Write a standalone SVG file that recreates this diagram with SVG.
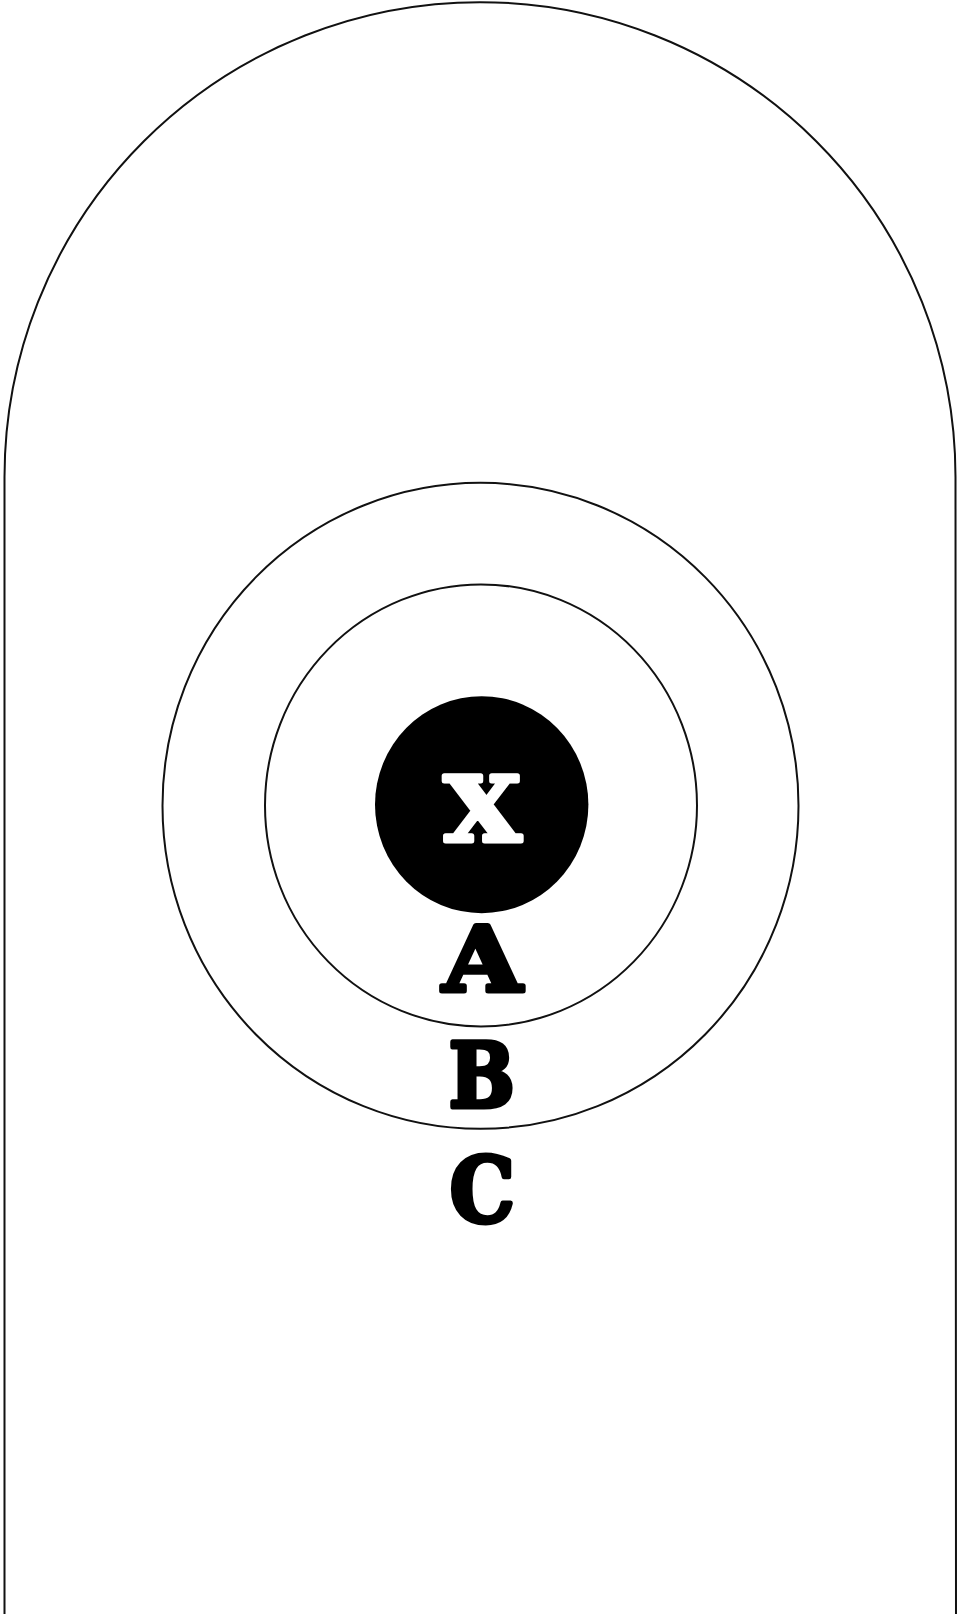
<svg xmlns="http://www.w3.org/2000/svg" width="958" height="1614" viewBox="0 0 958 1614">
<style>
.line{fill:none;stroke:#111;stroke-width:2}
.lbl{font-family:"DejaVu Serif","Liberation Serif",serif;font-weight:bold;font-size:90px;text-anchor:middle;stroke-width:5;stroke-linejoin:round}
.dark{fill:#000;stroke:#000}
.light{fill:#fff;stroke:#fff}
</style>
<rect width="958" height="1614" fill="#fff"/>
<g id="outline">
<path class="line" d="M4.5,1614 L4.5,477 A475.5,475 0 0 1 955.5,477 L956,1614"/>
</g>
<g id="ring-c">
<ellipse class="line" cx="480.5" cy="805.8" rx="318" ry="323"/>
</g>
<g id="ring-b">
<ellipse class="line" cx="481" cy="805.4" rx="216" ry="221"/>
</g>
<g id="bull">
<ellipse cx="481.7" cy="804.7" rx="106.7" ry="108.5" fill="#000"/>
<text class="lbl light" x="482.5" y="840.5" textLength="77" lengthAdjust="spacingAndGlyphs">X</text>
</g>
<g id="label-a">
<text class="lbl dark" x="482.3" y="991" textLength="79" lengthAdjust="spacingAndGlyphs">A</text>
</g>
<g id="label-b">
<text class="lbl dark" x="481.7" y="1107" textLength="66" lengthAdjust="spacingAndGlyphs">B</text>
</g>
<g id="label-c">
<text class="lbl dark" x="482.3" y="1221.5" textLength="65" lengthAdjust="spacingAndGlyphs">C</text>
</g>
</svg>
